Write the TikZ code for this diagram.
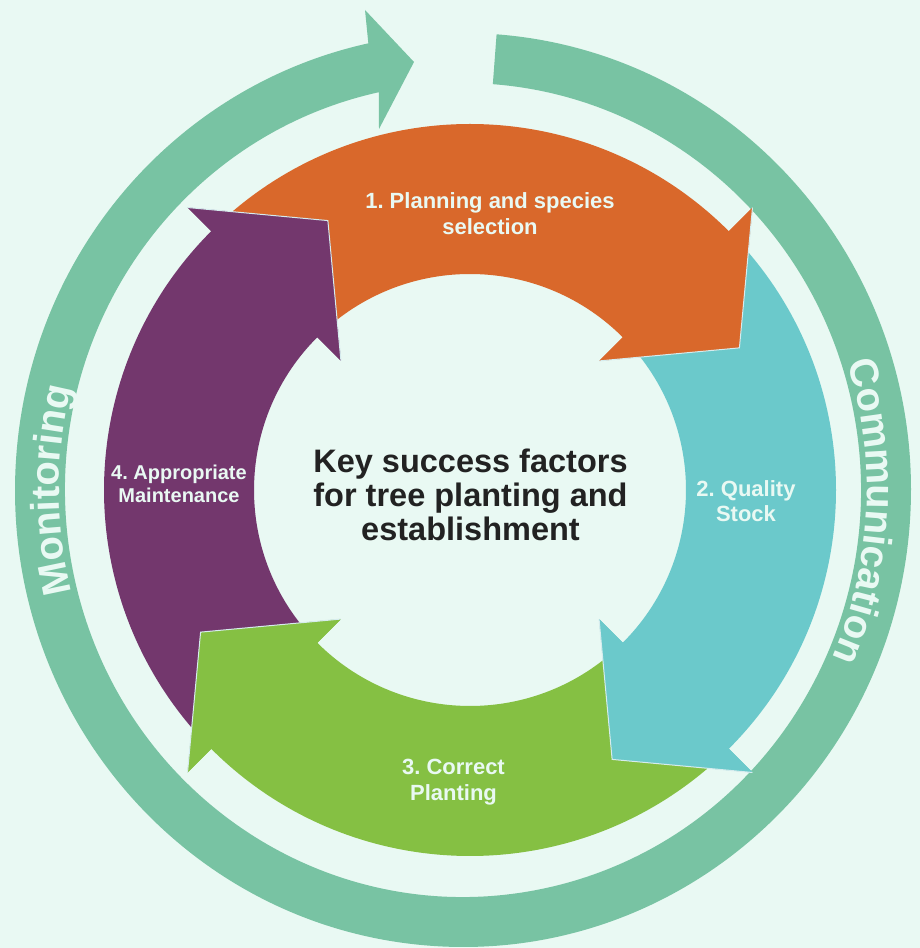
\documentclass[tikz,border=0pt]{standalone}
\usepackage{fontspec}
\setmainfont{Liberation Sans}
\usetikzlibrary{calc,decorations.text}
\frenchspacing

\definecolor{bgc}{HTML}{E9F9F3}
\definecolor{ringc}{HTML}{78C3A3}
\definecolor{orangec}{HTML}{D9682B}
\definecolor{tealc}{HTML}{6BC9CB}
\definecolor{greenc}{HTML}{85C043}
\definecolor{purplec}{HTML}{73376D}
\definecolor{edgec}{HTML}{D6ECEE}
\definecolor{inkc}{HTML}{222222}

\newcommand\ringfont{\color{bgc}\bfseries\fontsize{40}{40}\selectfont}

% one curved arrow of the inner cycle: colour, angle of the head's base
\newcommand\cyclearrow[2]{%
  \pgfmathsetmacro\tailang{#2+86}%
  \fill[#1] ($(O)+(\tailang:366pt)$) arc[start angle=\tailang, end angle=#2, radius=366pt]
    -- ($(O)+(#2:399.5pt)$) -- ($(O)+(#2:291pt)+(#2-90:90pt)$) -- ($(O)+(#2:182.5pt)$)
    -- ($(O)+(#2:216pt)$) arc[start angle=#2, end angle=\tailang, radius=216pt] -- cycle;
}
% the head again, on top of the next arrow's tail
\newcommand\cyclehead[2]{%
  \fill[#1] ($(O)+(#2:399.5pt)$) -- ($(O)+(#2:291pt)+(#2-90:90pt)$) -- ($(O)+(#2:182.5pt)$) -- cycle;
  \draw[headedge] ($(O)+(#2:399.5pt)$) -- ($(O)+(#2:291pt)+(#2-90:90pt)$) -- ($(O)+(#2:182.5pt)$);
}

\begin{document}
\begin{tikzpicture}[x=1pt,y=1pt,
  steplabel/.style={text=bgc, align=center, inner sep=0pt,
    font=\bfseries\fontsize{22}{26}\selectfont},
  headedge/.style={draw=edgec, line width=1pt, line join=miter},
  ringtext/.style={decorate, decoration={text along path, text align=center,
    text={|\ringfont|#1}}}]
\useasboundingbox (0,0) rectangle (920,948);
\fill[bgc] (0,0) rectangle (920,948);

% outer ring arrow, running clockwise from the top
\coordinate (R) at (463,458);
\coordinate (ringback1) at (365,938);
\coordinate (ringtip) at (414,886);
\coordinate (ringback2) at (379,819);
\fill[ringc] ($(R)+(85.7:448pt and 457pt)$)
    arc[start angle=85.7, end angle=-257.8, x radius=448pt, y radius=457pt]
    -- (ringback1) -- (ringtip) -- (ringback2)
    -- ($(R)+(102.2:398pt and 407pt)$)
    arc[start angle=102.2, end angle=445.7, x radius=398pt, y radius=407pt] -- cycle;

% words set along the ring
\path[ringtext=Communication] ($(R)+(25:404pt and 413pt)$)
    arc[start angle=25, end angle=-31, x radius=404pt, y radius=413pt];
\path[ringtext=Monitoring] ($(R)+(212:404pt and 413pt)$)
    arc[start angle=212, end angle=148, x radius=404pt, y radius=413pt];

% inner cycle of four arrows
\coordinate (O) at (470,458);
\cyclearrow{orangec}{45}
\cyclearrow{tealc}{-45}
\cyclearrow{greenc}{-135}
\cyclearrow{purplec}{135}
\cyclehead{orangec}{45}
\cyclehead{tealc}{-45}
\cyclehead{greenc}{-135}
\cyclehead{purplec}{135}

% labels
\node[steplabel] (step1) at (490,734) {1. Planning and species\\selection};
\node[steplabel, font=\bfseries\fontsize{22}{25}\selectfont] (step2) at (746,446.5) {2. Quality\\Stock};
\node[steplabel] (step3) at (453.5,165.7) {3. Correct\\Planting};
\node[steplabel, font=\bfseries\fontsize{20}{23}\selectfont] (step4) at (179,464.5) {4. Appropriate\\Maintenance};
\node[text=inkc, align=center, inner sep=0pt, font=\bfseries\fontsize{32.5}{34}\selectfont]
  (title) at (470.5,453) {Key success factors\\for tree planting and\\establishment};
\end{tikzpicture}
\end{document}
